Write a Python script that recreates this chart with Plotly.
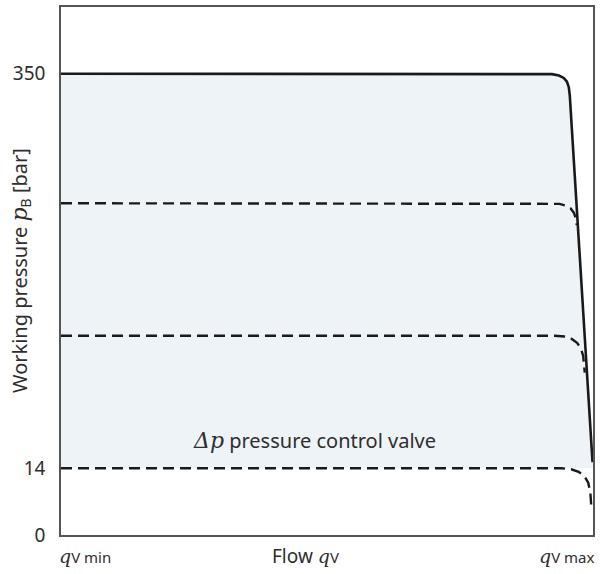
import plotly.graph_objects as go

# x: flow in % of range (qV min -> qV max), y: diagram units (schematic pressure axis)
solid_x = [0, 90.6, 92.3, 93.6, 94.5, 95.1, 95.45, 95.64, 99.91]
solid_y = [463, 463, 462.6, 461.2, 458.8, 455, 449.5, 441, 73]

dash1_x = [0, 92.2, 93.7, 94.9, 95.8, 96.4, 96.75, 96.95]
dash1_y = [333, 333, 332.4, 330.6, 327.8, 323.5, 318, 311]

dash2_x = [0, 92.8, 94.6, 96.0, 97.0, 97.7, 98.15, 98.45]
dash2_y = [200, 200, 199.2, 196.8, 193, 187.5, 180, 163]

dash3_x = [0, 94.0, 95.9, 97.3, 98.4, 99.1, 99.5, 99.7]
dash3_y = [67, 67, 66, 63.5, 59, 52.5, 43, 27]

base_x = [0, 100]
base_y = [67, 67]

ytick_vals = [0, 67, 463]
ytick_text = ["0", "14", "350"]

INK = "#1a1a1a"
TXT = "#2e2e2e"
FILL = "#eef3f7"
SANS = "Noto Sans"
SERIF = "DejaVu Serif"

fig = go.Figure()

# invisible lower boundary of the shaded area
fig.add_trace(go.Scatter(x=base_x, y=base_y, mode="lines", line=dict(width=0),
                         hoverinfo="skip", showlegend=False))
fig.add_trace(go.Scatter(x=solid_x, y=solid_y, mode="lines", fill="tonexty", fillcolor=FILL,
                         line=dict(color=INK, width=2.6), showlegend=False))
for xs, ys in [(dash1_x, dash1_y), (dash2_x, dash2_y), (dash3_x, dash3_y)]:
    fig.add_trace(go.Scatter(x=xs, y=ys, mode="lines",
                             line=dict(color=INK, width=2.4, dash="11px,6px"),
                             showlegend=False))

q = f"<span style='font-family:{SERIF}'><i>q</i></span>"
annos = [
    dict(x=-0.008, y=-0.04, xanchor="left", text=q + "<span style='font-size:15px'>V min</span>"),
    dict(x=0.46, y=-0.04, xanchor="center", text="Flow " + q + "<span style='font-size:15px'>V</span>"),
    dict(x=1.008, y=-0.04, xanchor="right", text=q + "<span style='font-size:15px'>V max</span>"),
]
for a in annos:
    fig.add_annotation(xref="paper", yref="paper", yanchor="middle", showarrow=False,
                       font=dict(family=SANS, size=19, color=TXT), **a)

fig.add_annotation(xref="paper", yref="paper", x=-0.077, y=0.5, textangle=-90, showarrow=False,
                   xanchor="center", yanchor="middle", font=dict(family=SANS, size=20, color=TXT),
                   text=f"Working pressure <span style='font-family:{SERIF};font-size:22px'><i>p</i></span>"
                        "<sub>B</sub> [bar]")

fig.add_annotation(x=47.7, y=95, showarrow=False, xanchor="center", yanchor="middle",
                   font=dict(family=SANS, size=20, color=TXT),
                   text=f"<span style='font-family:{SERIF};font-size:22px'><i>Δp</i></span> pressure control valve")

fig.update_layout(
    width=603, height=574,
    margin=dict(l=61, r=10, t=5, b=39),
    plot_bgcolor="white", paper_bgcolor="white",
    xaxis=dict(range=[0, 100], showgrid=False, zeroline=False, showticklabels=False, ticks="",
               showline=True, mirror=True, linecolor="#555555", linewidth=1.5, fixedrange=True),
    yaxis=dict(range=[0, 530], showgrid=False, zeroline=False, ticks="",
               tickvals=ytick_vals, ticktext=ytick_text, ticklabelstandoff=10,
               tickfont=dict(family=SANS, size=19, color=TXT),
               showline=True, mirror=True, linecolor="#555555", linewidth=1.5, fixedrange=True),
)

fig.write_html("out.html", config={"displayModeBar": False},
               post_script="document.body.style.margin='0';")
